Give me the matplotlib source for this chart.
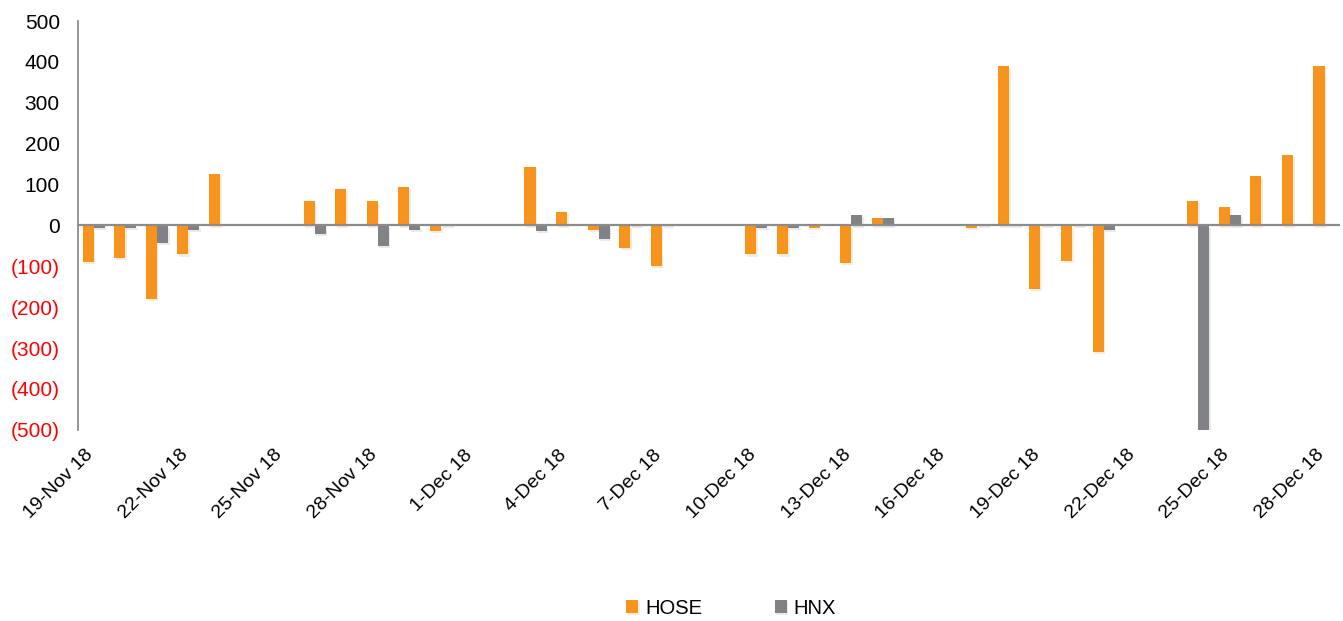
import numpy as np
import matplotlib
matplotlib.use('Agg')
import matplotlib.pyplot as plt
import matplotlib.dates as mdates
import matplotlib.patheffects as pe
import matplotlib.transforms as mtransforms
from matplotlib.ticker import FuncFormatter, MultipleLocator

plt.rcParams['font.family'] = ['Liberation Sans', 'DejaVu Sans']

# net foreign flows per trading day (bn VND)
dates = ['2018-11-19', '2018-11-20', '2018-11-21', '2018-11-22', '2018-11-23',
         '2018-11-26', '2018-11-27', '2018-11-28', '2018-11-29', '2018-11-30',
         '2018-12-03', '2018-12-04', '2018-12-05', '2018-12-06', '2018-12-07',
         '2018-12-10', '2018-12-11', '2018-12-12', '2018-12-13', '2018-12-14',
         '2018-12-17', '2018-12-18', '2018-12-19', '2018-12-20', '2018-12-21',
         '2018-12-24', '2018-12-25', '2018-12-26', '2018-12-27', '2018-12-28']
hose = [-90, -79, -180, -71, 127,
        59, 90, 59, 95, -14,
        144, 34, -10, -55, -99,
        -71, -71, -6, -91, 18,
        -6, 390, -156, -87, -309,
        59, 46, 120, 172, 390]
hnx = [-6, -6, -43, -10, -1,
       -22, -1, -51, -10, 4,
       -14, -1, -34, 4, 4,
       -6, -6, -1, 26, 18,
       4, 4, 4, 4, -11,
       -510, 26, -1, -1, -1]

x = mdates.date2num(np.array(dates, dtype='datetime64[D]'))
hose = np.array(hose)
hnx = np.array(hnx)

orange = '#F7941D'
grey = '#808285'

fig = plt.figure(figsize=(13.43, 6.21), dpi=100)
ax = fig.add_axes([0.058, 0.308, 0.940, 0.658])

w = 0.35
shadow = [pe.SimplePatchShadow(offset=(1.2, -1.5), alpha=0.15, rho=0.9), pe.Normal()]
b1 = ax.bar(x - w / 2, hose, width=w, color=orange, label='HOSE', zorder=3)
b2 = ax.bar(x + w / 2, hnx, width=w, color=grey, label='HNX', zorder=3)
for p in list(b1) + list(b2):
    p.set_path_effects(shadow)

x0 = mdates.date2num(np.datetime64('2018-11-19'))
x1 = mdates.date2num(np.datetime64('2018-12-28'))
ax.set_xlim(x0 - 0.5, x1 + 0.5)
ax.set_ylim(-500, 500)

ax.axhline(0, color='#8c8c8c', lw=1.6, zorder=4)

for s in ['top', 'right', 'bottom']:
    ax.spines[s].set_visible(False)
ax.spines['left'].set_color('#8c8c8c')
ax.spines['left'].set_linewidth(1.3)

# y ticks: negatives in red with brackets
ax.yaxis.set_major_locator(MultipleLocator(100))
ax.yaxis.set_major_formatter(FuncFormatter(
    lambda v, pos: '(%d)' % abs(v) if v < 0 else '%d' % v))
ax.tick_params(axis='y', length=0, pad=13, labelsize=15)
for t, v in zip(ax.get_yticklabels(), ax.get_yticks()):
    if v < 0:
        t.set_color('#FF0000')

ticks = np.arange(x0, x1 + 1, 3)
ax.set_xticks(ticks)
ax.xaxis.set_major_formatter(FuncFormatter(
    lambda v, pos: '%d-%s' % (mdates.num2date(v).day, mdates.num2date(v).strftime('%b %y'))))
ax.tick_params(axis='x', length=0, pad=12, labelsize=14)
shift = mtransforms.ScaledTranslation(3 / 100, 0, fig.dpi_scale_trans)
for t in ax.get_xticklabels():
    t.set_rotation(45)
    t.set_ha('right')
    t.set_transform(t.get_transform() + shift)

fig.legend(handles=[b1, b2], labels=['HOSE', 'HNX'], loc='center',
           bbox_to_anchor=(731 / 1343, 1 - 608 / 621), ncol=2, frameon=False,
           fontsize=14.5, handlelength=0.6, handleheight=0.6, handletextpad=0.35,
           columnspacing=3.6)

fig.savefig('out.png', dpi=100)
